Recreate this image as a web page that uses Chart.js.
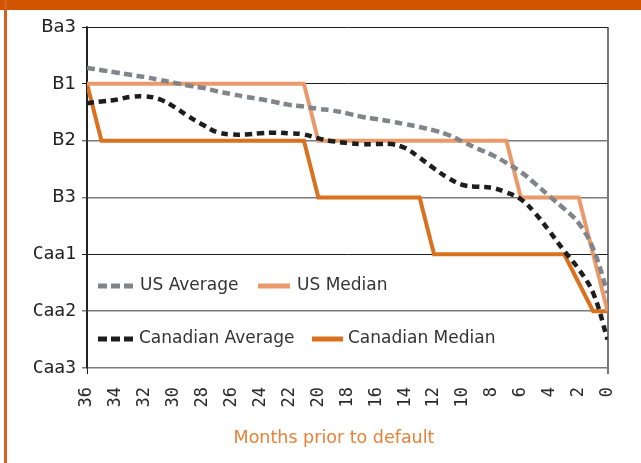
<!DOCTYPE html>
<html><head><meta charset="utf-8">
<script src="https://cdn.jsdelivr.net/npm/chart.js@4"></script>
<style>
html,body{margin:0;padding:0;background:#fff;}
#wrap{position:relative;width:641px;height:463px;overflow:hidden;background:#fff;}
#topband{position:absolute;left:0;top:0;width:641px;height:10px;background:#D35400;z-index:2;}
#leftband{position:absolute;left:4px;top:0;width:3px;height:463px;background:#D9601A;z-index:2;}
#xtitle{position:absolute;left:0;width:668px;top:427px;text-align:center;font-family:"DejaVu Sans";font-size:17.5px;line-height:21px;color:#E5823A;z-index:2;}
#cv{position:absolute;left:0;top:0;}
</style></head>
<body>
<div id="wrap">
  <div id="topband"></div>
  <div id="leftband"></div>
  <canvas id="cv" width="641" height="463"></canvas>
  <div id="xtitle">Months prior to default</div>
</div>
<script>
// Months prior to default (categories)
const months = [36,35,34,33,32,31,30,29,28,27,26,25,24,23,22,21,20,19,18,17,16,15,14,13,12,11,10,9,8,7,6,5,4,3,2,1,0];
// Rating tick labels, bottom to top (value = index)
const ratingLabels = ['Caa3','Caa2','Caa1','B3','B2','B1','Ba3'];
const xTickStep = 2;

// Series values in rating notches (0 = Caa3 ... 6 = Ba3)
const usAverage = [5.28,5.24,5.20,5.16,5.12,5.07,5.02,4.97,4.93,4.87,4.82,4.77,4.73,4.68,4.63,4.60,4.56,4.53,4.48,4.42,4.38,4.34,4.29,4.24,4.18,4.10,3.98,3.86,3.75,3.61,3.45,3.24,3.02,2.80,2.55,2.10,1.32];
const usMedian = [5,5,5,5,5,5,5,5,5,5,5,5,5,5,5,5,4,4,4,4,4,4,4,4,4,4,4,4,4,4,3,3,3,3,3,2,1];
const canAverage = [4.66,4.69,4.72,4.77,4.78,4.73,4.60,4.43,4.28,4.15,4.11,4.11,4.13,4.14,4.13,4.11,4.04,3.99,3.96,3.94,3.94,3.94,3.87,3.70,3.51,3.34,3.22,3.19,3.17,3.09,2.97,2.72,2.40,2.06,1.74,1.32,0.50];
const canMedian = [5,4,4,4,4,4,4,4,4,4,4,4,4,4,4,4,3,3,3,3,3,3,3,3,2,2,2,2,2,2,2,2,2,2,1.5,1,1];

const seriesNames = ['US Average','US Median','Canadian Average','Canadian Median'];

const pts = vals => months.map((m,i)=>({x:m,y:vals[i]}));

const C_USAVG = '#818489', C_USMED = '#EA9A6A', C_CANAVG = '#1d1d1d', C_CANMED = '#D9711F';

const datasets = [
  {label:seriesNames[0], data:pts(usAverage), borderColor:C_USAVG, borderWidth:4.5, borderDash:[8,4.5], tension:0.4, pointRadius:0, order:0, borderCapStyle:'butt'},
  {label:seriesNames[1], data:pts(usMedian), borderColor:C_USMED, borderWidth:4, tension:0, pointRadius:0, order:1},
  {label:seriesNames[2], data:pts(canAverage), borderColor:C_CANAVG, borderWidth:4.5, borderDash:[7,5], tension:0.4, pointRadius:0, order:0, borderCapStyle:'butt'},
  {label:seriesNames[3], data:pts(canMedian), borderColor:C_CANMED, borderWidth:4, tension:0, pointRadius:0, order:1}
];

const legendPlugin = {
  id:'innerLegend',
  afterDraw(chart){
    const ctx = chart.ctx;
    const ds = chart.data.datasets;
    const items = [
      {d:ds[0], x0:98, x1:133, tx:140, y:286},
      {d:ds[1], x0:258, x1:290, tx:297, y:286},
      {d:ds[2], x0:98, x1:133, tx:139, y:339},
      {d:ds[3], x0:312, x1:343, tx:348, y:339}
    ];
    ctx.save();
    items.forEach(it=>{
      ctx.beginPath();
      ctx.setLineDash(it.d.borderDash ? [9,4] : []);
      ctx.lineWidth = 5;
      ctx.lineCap = 'butt';
      ctx.strokeStyle = it.d.borderColor;
      ctx.moveTo(it.x0, it.y);
      ctx.lineTo(it.x1, it.y);
      ctx.stroke();
      ctx.setLineDash([]);
      ctx.fillStyle = '#333';
      ctx.font = '17px "DejaVu Sans"';
      ctx.textBaseline = 'middle';
      ctx.textAlign = 'left';
      ctx.fillText(it.d.label, it.tx, it.y);
    });
    ctx.restore();
  }
};

const darkVals = [6,5,2];

new Chart(document.getElementById('cv'), {
  type:'line',
  data:{datasets},
  options:{
    responsive:false,
    animation:false,
    layout:{padding:{top:27,right:33,left:0,bottom:0}},
    plugins:{legend:{display:false}, tooltip:{enabled:false}},
    scales:{
      x:{
        type:'linear', min:0, max:36, reverse:true,
        afterFit(s){ s.height = 95; },
        border:{display:false},
        grid:{
          drawOnChartArea:true, tickLength:6,
          color:c => c.tick && c.tick.value===0 ? '#777' : (c.tick && c.tick.value===36 ? '#222' : 'rgba(0,0,0,0)'),
          lineWidth:c => c.tick && c.tick.value===0 ? 2 : 1
        },
        ticks:{stepSize:xTickStep, autoSkip:false, minRotation:90, maxRotation:90, padding:13, color:'#2a2a2a',
          font:{family:'DejaVu Sans Mono', size:17}}
      },
      y:{
        min:0, max:6,
        afterFit(s){ s.width = 87; },
        border:{display:true, color:'#222', width:1.5},
        grid:{
          tickLength:5,
          color:c => c.tick && darkVals.includes(c.tick.value) ? '#1e1e1e' : '#7a7a7a',
          lineWidth:c => c.tick && darkVals.includes(c.tick.value) ? 1 : 1.5
        },
        ticks:{stepSize:1, padding:6, color:'#222',
          callback:v => ratingLabels[v],
          font:c => ({family: (c.tick && c.tick.value<=2) ? 'DejaVu Sans Mono' : 'DejaVu Sans', size:18})}
      }
    }
  },
  plugins:[legendPlugin]
});
</script>
</body></html>
